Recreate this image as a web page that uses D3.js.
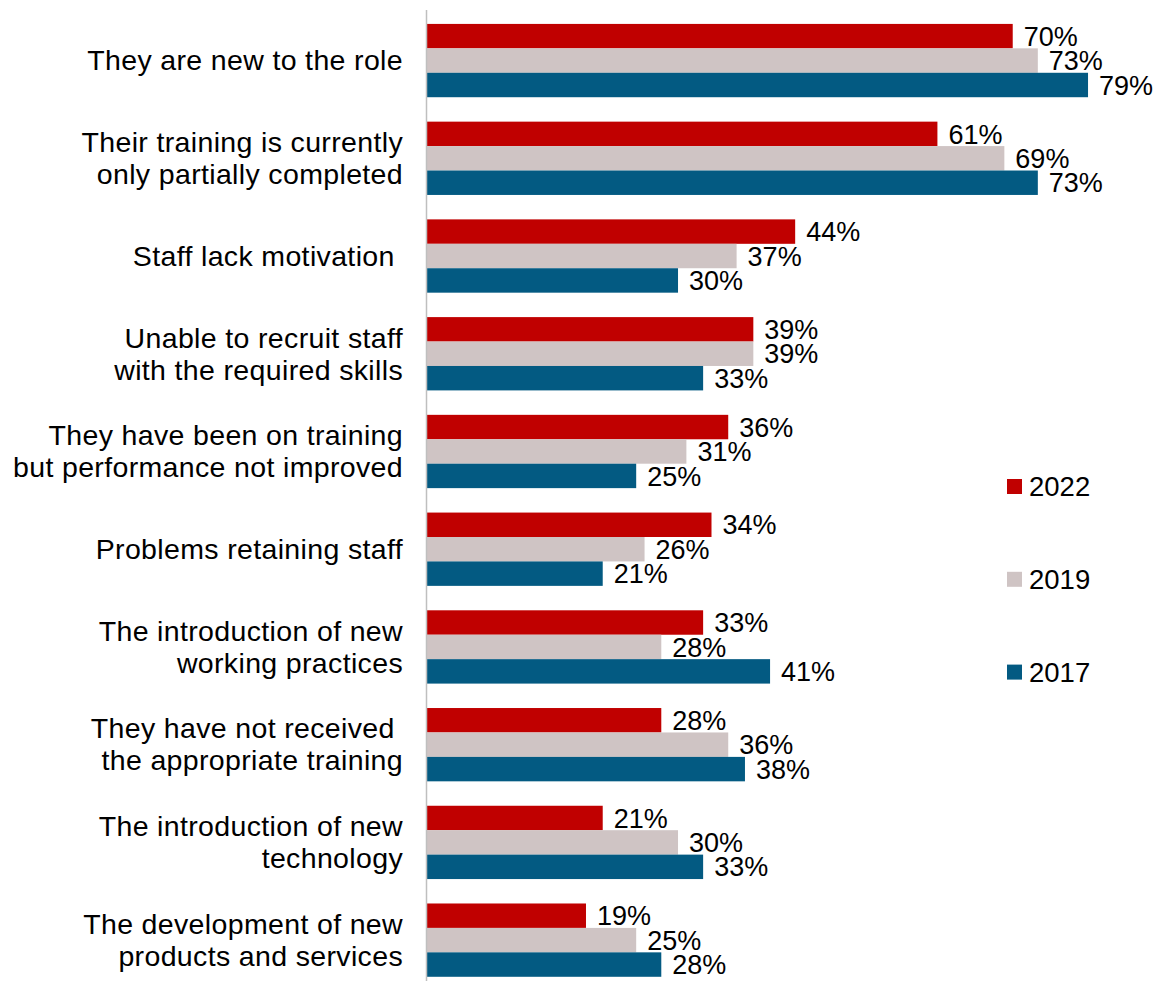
<!DOCTYPE html>
<html>
<head>
<meta charset="utf-8">
<script src="https://cdn.jsdelivr.net/npm/d3@7"></script>
<style>
  html, body { margin: 0; padding: 0; background: #fff; }
  text { font-family: "Liberation Sans", Arial, sans-serif; fill: #000; white-space: pre; }
</style>
</head>
<body>
<svg id="chart" width="1157" height="981"></svg>
<script>
// Reasons given for staff skill gaps, by survey year
const categories = [
  ["They are new to the role"],
  ["Their training is currently", "only partially completed"],
  ["Staff lack motivation "],
  ["Unable to recruit staff", "with the required skills"],
  ["They have been on training", "but performance not improved"],
  ["Problems retaining staff"],
  ["The introduction of new", "working practices"],
  ["They have not received ", "the appropriate training"],
  ["The introduction of new", "technology"],
  ["The development of new", "products and services"]
];
const years = ["2022", "2019", "2017"];
const values2022 = [70, 61, 44, 39, 36, 34, 33, 28, 21, 19];
const values2019 = [73, 69, 37, 39, 31, 26, 28, 36, 30, 25];
const values2017 = [79, 73, 30, 33, 25, 21, 41, 38, 33, 28];
const colors = ["#C00000", "#CFC4C4", "#035A82"];

const series = [values2022, values2019, values2017];
const svg = d3.select("#chart");
const valueFont = 27;
const catFont = 28.5;
const legendFont = 27.5;

const x = d3.scaleLinear().domain([0, 80]).range([427, 1096.4]);
const y0 = d3.scaleBand()
  .domain(d3.range(categories.length))
  .range([11.7, 989])
  .paddingInner(0.25)
  .paddingOuter(0.125);
const y1 = d3.scaleBand().domain(d3.range(years.length)).range([0, y0.bandwidth()]);

const groups = svg.append("g").selectAll("g")
  .data(categories)
  .join("g")
  .attr("transform", (d, i) => `translate(0,${y0(i)})`);

groups.selectAll("rect")
  .data((d, i) => series.map((s, k) => ({ k, v: s[i] })))
  .join("rect")
  .attr("x", x(0))
  .attr("y", d => y1(d.k))
  .attr("width", d => x(d.v) - x(0))
  .attr("height", y1.bandwidth())
  .attr("fill", d => colors[d.k]);

groups.selectAll("text.val")
  .data((d, i) => series.map((s, k) => ({ k, v: s[i] })))
  .join("text")
  .attr("class", "val")
  .attr("x", d => x(d.v) + 11)
  .attr("y", d => y1(d.k) + y1.bandwidth() / 2 + valueFont * 0.358)
  .attr("font-size", valueFont)
  .text(d => d.v + "%");

// Category labels (one or two lines), right-aligned against the axis
groups.append("text")
  .attr("class", "cat")
  .attr("text-anchor", "end")
  .attr("font-size", catFont)
  .attr("letter-spacing", 0.35)
  .each(function(lines) {
    const t = d3.select(this);
    const lh = 32;
    const c = y0.bandwidth() / 2 + 9.8;
    lines.forEach((ln, j) => {
      t.append("tspan")
        .attr("x", 403)
        .attr("y", c + (j - (lines.length - 1) / 2) * lh)
        .text(ln);
    });
  });

// Vertical axis line
svg.append("line")
  .attr("x1", x(0) - 0.5).attr("x2", x(0) - 0.5)
  .attr("y1", 10).attr("y2", 986)
  .attr("stroke", "#BFBFBF").attr("stroke-width", 1.5);

// Legend
const legend = svg.append("g").selectAll("g")
  .data(years)
  .join("g")
  .attr("transform", (d, i) => `translate(1007,${486.5 + i * 92.8})`);
legend.append("rect")
  .attr("x", 0).attr("y", -7.5)
  .attr("width", 15).attr("height", 15)
  .attr("fill", (d, i) => colors[i]);
legend.append("text")
  .attr("x", 22)
  .attr("y", legendFont * 0.358)
  .attr("font-size", legendFont)
  .text(d => d);
</script>
</body>
</html>
